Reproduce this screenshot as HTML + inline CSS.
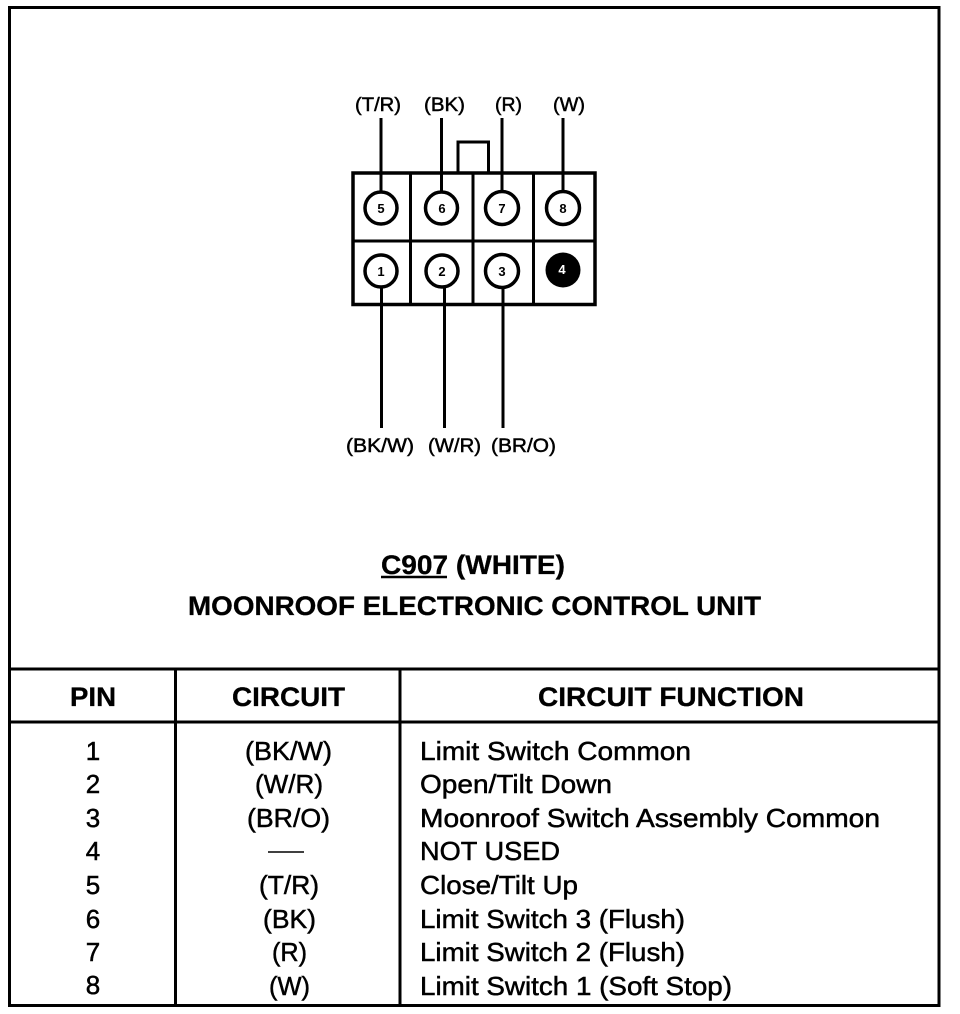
<!DOCTYPE html>
<html>
<head>
<meta charset="utf-8">
<style>
html,body{margin:0;padding:0;background:#fff;width:960px;height:1014px;overflow:hidden}
svg{display:block}
text{font-family:"Liberation Sans",sans-serif;fill:#000;stroke:#000;stroke-width:.5px}
.b{font-weight:bold;stroke-width:.3px}
.n{font-size:19.5px}
.r{font-size:26px}
.h{font-size:26.5px}
.s{font-size:13px;font-weight:bold;stroke:none}
</style>
</head>
<body>
<svg width="960" height="1014" viewBox="0 0 960 1014" xmlns="http://www.w3.org/2000/svg">
<rect width="960" height="1014" fill="#fff"/>
<g fill="none" stroke="#000">
<rect x="9.5" y="7.5" width="929.5" height="998" stroke-width="3"/>
<path d="M9 669H939M9 722H939" stroke-width="3"/>
<path d="M175.500 669V1005M400 669V1005" stroke-width="3"/>
<rect x="353" y="173" width="242" height="131.500" stroke-width="3.500"/>
<path d="M353 241H595" stroke-width="3"/>
<path d="M410.500 173V304M473 173V304M533.500 173V304" stroke-width="3"/>
<path d="M458 172V142H488.500V172" stroke-width="3"/>
<path d="M381 118V192M441.500 118V192M502 118V192M563 118V192" stroke-width="3"/>
<path d="M381.500 286V428M444.500 286V428M503 286V428" stroke-width="3"/>
<g fill="#fff" stroke-width="3.500">
<circle cx="381" cy="208" r="16"/>
<circle cx="441.500" cy="208" r="16"/>
<circle cx="502" cy="208" r="16.500"/>
<circle cx="563" cy="208" r="16.500"/>
<circle cx="381" cy="271" r="16"/>
<circle cx="442" cy="271" r="16"/>
<circle cx="502" cy="271" r="16.500"/>
</g>
<circle cx="563" cy="270" r="17.500" fill="#000" stroke="none"/>
<path d="M268 852H304" stroke-width="1.500"/>
<path d="M381 577H447" stroke-width="2.500"/>
</g>

<g text-anchor="middle" class="s">
<text x="381" y="213" class="s">5</text>
<text x="442" y="213" class="s">6</text>
<text x="502" y="213" class="s">7</text>
<text x="563" y="213" class="s">8</text>
<text x="381" y="276" class="s">1</text>
<text x="442" y="276" class="s">2</text>
<text x="502" y="276" class="s">3</text>
<text x="562" y="274" class="s" style="fill:#fff">4</text>
</g>

<text class="n" x="355" y="111" textLength="46" lengthAdjust="spacingAndGlyphs">(T/R)</text>
<text class="n" x="424" y="111" textLength="41" lengthAdjust="spacingAndGlyphs">(BK)</text>
<text class="n" x="495" y="111" textLength="27" lengthAdjust="spacingAndGlyphs">(R)</text>
<text class="n" x="553" y="111" textLength="32" lengthAdjust="spacingAndGlyphs">(W)</text>
<text class="n" x="346" y="452" textLength="68" lengthAdjust="spacingAndGlyphs">(BK/W)</text>
<text class="n" x="428" y="452" textLength="53" lengthAdjust="spacingAndGlyphs">(W/R)</text>
<text class="n" x="491" y="452" textLength="65" lengthAdjust="spacingAndGlyphs">(BR/O)</text>

<text class="b h" x="381" y="574" textLength="184" lengthAdjust="spacingAndGlyphs" xml:space="preserve">C907 (WHITE)</text>
<text class="b h" x="188" y="615" textLength="573" lengthAdjust="spacingAndGlyphs">MOONROOF ELECTRONIC CONTROL UNIT</text>

<text class="b h" x="70" y="706" textLength="46" lengthAdjust="spacingAndGlyphs">PIN</text>
<text class="b h" x="232" y="706" textLength="113" lengthAdjust="spacingAndGlyphs">CIRCUIT</text>
<text class="b h" x="538" y="706" textLength="266" lengthAdjust="spacingAndGlyphs">CIRCUIT FUNCTION</text>

<g class="r" text-anchor="middle">
<text x="93" y="760">1</text>
<text x="93" y="793">2</text>
<text x="93" y="827">3</text>
<text x="93" y="860">4</text>
<text x="93" y="894">5</text>
<text x="93" y="928">6</text>
<text x="93" y="961">7</text>
<text x="93" y="994">8</text>
</g>

<text class="r" x="245" y="760" textLength="87" lengthAdjust="spacingAndGlyphs">(BK/W)</text>
<text class="r" x="255" y="793" textLength="68" lengthAdjust="spacingAndGlyphs">(W/R)</text>
<text class="r" x="247" y="827" textLength="83" lengthAdjust="spacingAndGlyphs">(BR/O)</text>
<text class="r" x="259" y="894" textLength="60" lengthAdjust="spacingAndGlyphs">(T/R)</text>
<text class="r" x="263" y="928" textLength="53" lengthAdjust="spacingAndGlyphs">(BK)</text>
<text class="r" x="272" y="961" textLength="35" lengthAdjust="spacingAndGlyphs">(R)</text>
<text class="r" x="269" y="995" textLength="41" lengthAdjust="spacingAndGlyphs">(W)</text>

<text class="r" x="420" y="760" textLength="271" lengthAdjust="spacingAndGlyphs">Limit Switch Common</text>
<text class="r" x="420" y="793" textLength="192" lengthAdjust="spacingAndGlyphs">Open/Tilt Down</text>
<text class="r" x="420" y="827" textLength="460" lengthAdjust="spacingAndGlyphs">Moonroof Switch Assembly Common</text>
<text class="r" x="420" y="860" textLength="140" lengthAdjust="spacingAndGlyphs">NOT USED</text>
<text class="r" x="420" y="894" textLength="158" lengthAdjust="spacingAndGlyphs">Close/Tilt Up</text>
<text class="r" x="420" y="928" textLength="265" lengthAdjust="spacingAndGlyphs">Limit Switch 3 (Flush)</text>
<text class="r" x="420" y="961" textLength="265" lengthAdjust="spacingAndGlyphs">Limit Switch 2 (Flush)</text>
<text class="r" x="420" y="995" textLength="312" lengthAdjust="spacingAndGlyphs">Limit Switch 1 (Soft Stop)</text>
</svg>
</body>
</html>
